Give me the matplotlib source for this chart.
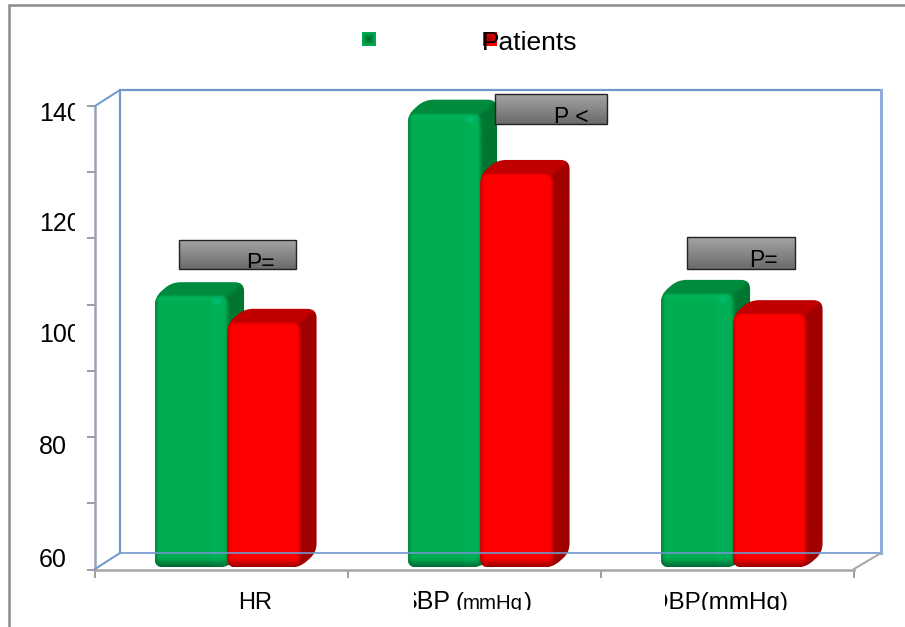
import matplotlib
matplotlib.use("Agg")
import matplotlib.pyplot as plt
import numpy as np
from matplotlib.patches import PathPatch, Rectangle
from matplotlib.path import Path
from matplotlib.transforms import Bbox

plt.rcParams["font.family"] = ["Liberation Sans", "DejaVu Sans"]

W, H = 905, 627

categories = ["HR", "SBP", "DBP"]
group_a = [107.0, 138.5, 107.4]   # green
group_b = [102.4, 128.1, 103.9]   # red
legend_label = "Patients"
p_labels = ["P=", "P <", "P="]
y_labels = ["140", "120", "100", "80", "60"]

GREEN = {"front": (0, 173, 80), "top": (0, 138, 62), "side": (0, 118, 50)}
RED = {"front": (255, 0, 0), "top": (192, 0, 0), "side": (160, 0, 0)}
BLUE = "#7097CE"


def rounded_path(pts, r):
    """Closed polygon with its corners cut by quadratic curves."""
    pts = [np.array(p, float) for p in pts]
    n = len(pts)
    verts, codes = [], []
    for i, p in enumerate(pts):
        a, b = pts[i - 1], pts[(i + 1) % n]
        ra = min(r, np.linalg.norm(a - p) / 2)
        rb = min(r, np.linalg.norm(b - p) / 2)
        p0 = p + (a - p) / np.linalg.norm(a - p) * ra
        p1 = p + (b - p) / np.linalg.norm(b - p) * rb
        verts.append(p0)
        codes.append(Path.MOVETO if i == 0 else Path.LINETO)
        verts += [p, p1]
        codes += [Path.CURVE3, Path.CURVE3]
    verts.append(verts[0])
    codes.append(Path.CLOSEPOLY)
    return Path(verts, codes)


def soften(img):
    """Small binomial blur, so the faces run into each other."""
    kernel = np.array([1, 4, 6, 4, 1]) / 16
    out = img.copy()
    for axis in (0, 1):
        pad = [(2, 2) if a == axis else (0, 0) for a in range(3)]
        padded = np.pad(out, pad, mode="edge")
        out = np.apply_along_axis(lambda s: np.convolve(s, kernel, mode="valid"), axis, padded)
    return out


def bar_image(colors, w, h, dx, dy, r=8):
    """Shaded picture of one bar: front face, top and side."""
    nx, ny = int(w + dx), int(h + dy)
    x, y = np.meshgrid(np.arange(nx) + 0.5, np.arange(ny) + 0.5)
    fx, fy = x, y - dy   # coordinates inside the front face

    cx = np.clip(fx, r, w - r)
    cy = np.clip(fy, r, h - r)
    in_front = np.hypot(fx - cx, fy - cy) <= r

    side = (fx - w) / dx > (-fy) / dy
    img = np.empty((ny, nx, 3))
    img[~side] = np.array(colors["top"]) / 255
    img[side] = np.array(colors["side"]) / 255

    c = np.array(colors["front"], float) / 255
    shade = np.clip(0.55 + (h - fy) / 9 * 0.45, 0, 1)
    shade = shade * np.clip(0.75 + fx / 4 * 0.25, 0, 1)
    shade = shade * np.clip(0.80 + (w - fx) / 3 * 0.20, 0, 1)
    light = np.clip(1 - fy / 7, 0, 1) * 0.08
    light = light + ((fx > w - 18) & (fx < w - 3)) * 0.04
    light = light + np.clip(1 - np.hypot((fx - (w - 11)) / 5.0, (fy - 6) / 3.5), 0, 1) * 0.25
    face = c[None, None, :] * shade[..., None]
    face = face + light[..., None] * (1 - face) * (c > 0.01)
    img[in_front] = face[in_front]
    return np.clip(soften(img), 0, 1)


def draw_bar(px, x0, x1, y_top, y_base, colors, dx=17, dy=15):
    sil = rounded_path([(x0, y_top), (x0 + dx, y_top - dy), (x1 + dx, y_top - dy),
                        (x1 + dx, y_base - dy), (x1, y_base), (x0, y_base)], 9)
    clip = PathPatch(sil, fc="none", ec="none")
    px.add_patch(clip)
    img = bar_image(colors, x1 - x0, y_base - y_top, dx, dy)
    im = px.imshow(img, extent=(x0, x1 + dx, y_base, y_top - dy), aspect="auto",
                   interpolation="bilinear")
    im.set_clip_path(clip)


def clipped_text(px, x, y, s, size, box=None, **kw):
    t = px.text(x, y, s, fontsize=size, color="black", va="baseline", **kw)
    if box is not None:
        x0, y0, x1, y1 = box
        t.set_clip_box(Bbox([[x0, H - y1], [x1, H - y0]]))
        t.set_clip_on(True)
    return t


fig = plt.figure(figsize=(W / 100, H / 100), dpi=100, facecolor="white")

# value axis in the real plot rectangle
ax = fig.add_axes([95 / W, 1 - 569.5 / H, 759 / W, 463.5 / H])
ax.set_xlim(0, 3)
ax.set_ylim(60, 140)
ax.set_facecolor("none")
ax.spines[["top", "right"]].set_visible(False)
ax.spines["left"].set_color("#98A4B6")
ax.spines["left"].set_linewidth(1.8)
ax.spines["bottom"].set_color("#A6A6A6")
ax.spines["bottom"].set_linewidth(1.8)
ax.set_xticks(range(4))
ax.set_yticks(np.linspace(60, 140, 8))   # eight marks, they do not line up with the labels
ax.tick_params(length=6, width=1.2, color="#8C8C8C", labelleft=False, labelbottom=False)

# overlay in image pixels for the fake 3D parts
px = fig.add_axes([0, 0, 1, 1], zorder=3)
px.set_xlim(0, W)
px.set_ylim(H, 0)
px.axis("off")
px.patch.set_alpha(0)
px.set_autoscale_on(False)

# outer frame
px.plot([8.5, 8.5, W], [H, 5, 5], color="#8C8C8C", lw=1.8, solid_joinstyle="miter")

# walls and floor
px.plot([120, 120, 881], [553, 90, 90], color=BLUE, lw=1.6, solid_joinstyle="miter")
px.plot([881, 881], [90, 553], color="#8FAEDC", lw=2.2)
px.plot([120, 881], [553, 553], color=BLUE, lw=1.2)
px.plot([95, 120], [106, 90], color=BLUE, lw=1.4)
px.plot([95, 120], [569, 553], color=BLUE, lw=1.4)
px.plot([854, 881], [569, 553], color="#A6A6A6", lw=1.4)


def to_px(x, v):
    xp, yp = ax.transData.transform((x, v))
    return xp, H - yp


BAR_W = 72.5
SHIFT = 0.022   # groups sit slightly right of the slot centres
for i in range(len(categories)):
    xc, _ = to_px(i + 0.5 + SHIFT, 60)
    base = to_px(0, 60)[1] - 2
    ya = to_px(0, group_a[i])[1]
    yb = to_px(0, group_b[i])[1]
    draw_bar(px, xc - BAR_W, xc, ya, base, GREEN)
    draw_bar(px, xc, xc + BAR_W, yb, base, RED)

# p value boxes
boxes = [(179, 240, 296, 269), (495, 94, 607, 124), (687, 237, 795, 269)]
p_x = [246.5, 554, 749]
p_base = [269.5, 124.5, 267]
for (x0, y0, x1, y1), lab, tx, ty in zip(boxes, p_labels, p_x, p_base):
    grad = np.linspace(0.64, 0.42, 32)[:, None]
    px.imshow(grad, extent=(x0, x1, y1, y0), aspect="auto", cmap="gray", vmin=0, vmax=1, zorder=4)
    px.add_patch(Rectangle((x0, y0), x1 - x0, y1 - y0, fc="none", ec="#222222", lw=1.0, zorder=5))
    clipped_text(px, tx, ty, lab, 16.5, box=(x0, y0, x1, y1 - 1), zorder=6)

# legend
for x0, colors in ((362, GREEN), (483, RED)):
    c = np.array(colors["front"]) / 255
    xx, yy = np.meshgrid(np.linspace(-1, 1, 14), np.linspace(-1, 1, 14))
    d = np.maximum(abs(xx), abs(yy))
    sw = c[None, None, :] * (0.6 + 0.4 * d[..., None])
    px.imshow(sw, extent=(x0, x0 + 14, 46, 32), aspect="auto", interpolation="bilinear", zorder=4)
clipped_text(px, 482, 50, legend_label, 19, zorder=6)

# value labels, cut off on the right like in the picture
y_pos = [121, 231, 342, 454, 567]
for lab, yy in zip(y_labels, y_pos):
    clipped_text(px, 39, yy, lab, 18, box=(0, 0, 75, H))

# category labels, bottom cut off
cut = (0, 0, W, 610)
clipped_text(px, 238, 609, categories[0], 17, box=cut)
clipped_text(px, 401, 609, categories[1], 18, box=(414, 0, W, 610))
clipped_text(px, 455, 609, "(", 17, box=cut)
clipped_text(px, 463, 609, "mmHg", 14.7, box=cut)
clipped_text(px, 524, 609, ")", 17, box=cut)
clipped_text(px, 650.5, 609, categories[2] + "(mmHg)", 17.5, box=(665, 0, W, 610))

fig.savefig("out.png", dpi=100)
